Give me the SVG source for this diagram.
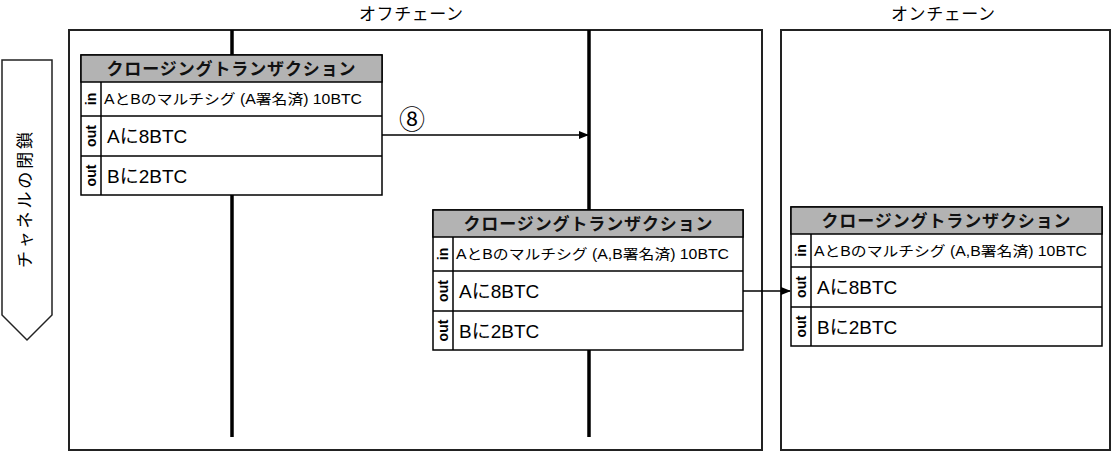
<svg xmlns="http://www.w3.org/2000/svg" width="1112" height="452" viewBox="0 0 1112 452">
<defs>
<style>
.frame{fill:none;stroke:#222;stroke-width:2}
.life{stroke:#000;stroke-width:3.5}
.box{fill:#fff;stroke:#000;stroke-width:1.5}
.hdr{fill:#b3b3b3;stroke:#000;stroke-width:1.5}
.ln{stroke:#000;stroke-width:1.5}
.ht{font-family:"Liberation Sans","Noto Sans CJK JP",sans-serif;font-weight:bold;font-size:17px;text-anchor:middle;fill:#111}
.it{font-family:"Liberation Sans","Noto Sans CJK JP",sans-serif;font-size:14px;fill:#000}
.ot{font-family:"Liberation Sans","Noto Sans CJK JP",sans-serif;font-size:19px;fill:#000}
.lb{font-family:"Liberation Sans","Noto Sans CJK JP",sans-serif;font-weight:bold;font-size:14px;text-anchor:middle;fill:#000}
.tl{font-family:"Noto Sans CJK JP",sans-serif;font-size:17px;text-anchor:middle;fill:#000}
.conn{stroke:#000;stroke-width:1.5;fill:none}
</style>
<marker id="ah" markerWidth="10" markerHeight="10" refX="9" refY="5" orient="auto" markerUnits="userSpaceOnUse">
<path d="M0,1 L10,5 L0,9 Z" fill="#000"/>
</marker>
</defs>

<g id="offchain">
<rect class="frame" x="69" y="30" width="693" height="420"/>
<text class="tl" x="411" y="20" textLength="104" lengthAdjust="spacing">オフチェーン</text>
<line class="life" x1="232" y1="30" x2="232" y2="437"/>
<line class="life" x1="589" y1="30" x2="589" y2="437"/>
</g>

<g id="onchain">
<rect class="frame" x="781" y="30" width="329" height="420"/>
<text class="tl" x="943" y="20" textLength="104" lengthAdjust="spacing">オンチェーン</text>
</g>

<g id="phase">
<polygon points="2,60 52,60 52,315 27,340 2,315" fill="#fff" stroke="#222" stroke-width="1.5"/>
<text class="tl" x="0" y="0" font-size="19" textLength="136" lengthAdjust="spacing" transform="translate(31,200) rotate(-90)">チャネルの閉鎖</text>
</g>

<g id="tx1">
<rect class="box" x="81" y="55" width="301" height="140"/>
<rect class="hdr" x="81" y="55" width="301" height="27"/>
<text class="ht" x="231" y="74.5" textLength="249" lengthAdjust="spacing">クロージングトランザクション</text>
<line class="ln" x1="81" y1="116" x2="382" y2="116"/>
<line class="ln" x1="81" y1="156" x2="382" y2="156"/>
<line class="ln" x1="101" y1="82" x2="101" y2="195"/>
<text class="lb" transform="translate(96,99) rotate(-90)">in</text>
<text class="lb" transform="translate(96,136) rotate(-90)">out</text>
<text class="lb" transform="translate(96,175.5) rotate(-90)">out</text>
<text class="it" x="104" y="104" textLength="258" lengthAdjust="spacingAndGlyphs">AとBのマルチシグ (A署名済) 10BTC</text>
<text class="ot" x="107" y="143">Aに8BTC</text>
<text class="ot" x="107" y="182.5">Bに2BTC</text>
</g>

<g id="tx2">
<rect class="box" x="433" y="210" width="310" height="140"/>
<rect class="hdr" x="433" y="210" width="310" height="27"/>
<text class="ht" x="588" y="229.5" textLength="249" lengthAdjust="spacing">クロージングトランザクション</text>
<line class="ln" x1="433" y1="271" x2="743" y2="271"/>
<line class="ln" x1="433" y1="311" x2="743" y2="311"/>
<line class="ln" x1="453" y1="237" x2="453" y2="350"/>
<text class="lb" transform="translate(448,254) rotate(-90)">in</text>
<text class="lb" transform="translate(448,291) rotate(-90)">out</text>
<text class="lb" transform="translate(448,330.5) rotate(-90)">out</text>
<text class="it" x="456" y="259" textLength="273" lengthAdjust="spacingAndGlyphs">AとBのマルチシグ (A,B署名済) 10BTC</text>
<text class="ot" x="459" y="298">Aに8BTC</text>
<text class="ot" x="459" y="337.5">Bに2BTC</text>
</g>

<g id="tx3">
<rect class="box" x="791" y="207" width="311" height="139"/>
<rect class="hdr" x="791" y="207" width="311" height="27"/>
<text class="ht" x="946" y="226.5" textLength="249" lengthAdjust="spacing">クロージングトランザクション</text>
<line class="ln" x1="791" y1="267" x2="1102" y2="267"/>
<line class="ln" x1="791" y1="307" x2="1102" y2="307"/>
<line class="ln" x1="811" y1="234" x2="811" y2="346"/>
<text class="lb" transform="translate(806,250.5) rotate(-90)">in</text>
<text class="lb" transform="translate(806,287) rotate(-90)">out</text>
<text class="lb" transform="translate(806,326.5) rotate(-90)">out</text>
<text class="it" x="814" y="255.5" textLength="273" lengthAdjust="spacingAndGlyphs">AとBのマルチシグ (A,B署名済) 10BTC</text>
<text class="ot" x="817" y="294">Aに8BTC</text>
<text class="ot" x="817" y="333.5">Bに2BTC</text>
</g>

<g id="connectors">
<line class="conn" x1="382" y1="135" x2="588" y2="135" marker-end="url(#ah)"/>
<text x="412" y="129" font-family="Noto Sans CJK JP,sans-serif" font-size="26" text-anchor="middle" fill="#000">⑧</text>
<line class="conn" x1="743" y1="291" x2="790" y2="291" marker-end="url(#ah)"/>
</g>
</svg>
